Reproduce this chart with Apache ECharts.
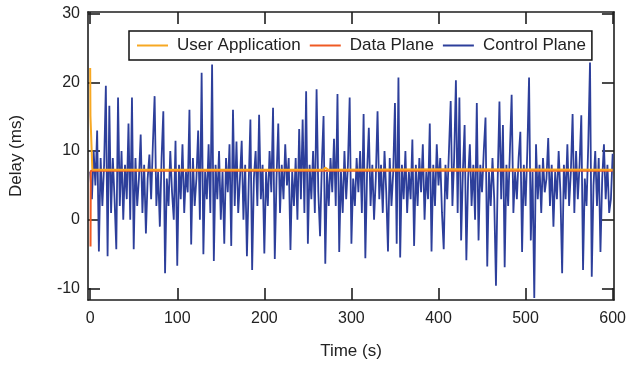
<!DOCTYPE html>
<html>
<head>
<meta charset="utf-8">
<script src="https://cdn.jsdelivr.net/npm/echarts@6/dist/echarts.min.js"></script>
<style>
html,body{margin:0;padding:0;background:#fff;}
#chart{width:629px;height:365px;}
</style>
</head>
<body>
<div id="chart"></div>
<script>
// ---- data ----
const seriesNames = ["User Application", "Data Plane", "Control Plane"];
const xTicks = [0, 100, 200, 300, 400, 500, 600];
const yTicks = [-10, 0, 10, 20, 30];

const userTime   = [0, 0.3, 2.5, 150, 268, 270, 273, 420, 600];
const userValues = [22.1, 15.1, 7.3, 7.3, 7.3, 7.6, 7.3, 7.35, 7.3];

const dataTime   = [0.4, 0.7, 600];
const dataValues = [-3.9, 7.15, 7.15];

// control plane sampled every 2 s from 0 to 600 s
const cpSampleStep = 2;
const cpValues = [
  7, 3, 10, 5, 13, -4.6, 9, 2, 8, 19.5,
  -5.3, 16.6, 1, 9, 3, -4.3, 17.8, 2, 10, 0,
  8, 3, 14, 0, 17.8, -4.3, 9, 2, 6, 12.4,
  1, 8, -2, 6, 9.5, 3, 11, 18, 2, 7,
  -1, 9, 15.8, -7.8, 6, 2, 10, 4, 0, 11.5,
  -6.7, 8, 3, 11, 1, 7, 4, 16, -3.6, 9,
  2, 6, 13, 0, 21.4, -5, 7, 3, 11, 1,
  22.6, -6, 8, 3, 10, 0, 7, -3.5, 9, 4,
  11, -3.8, 16, 2, 11.4, 1, 6, 11.5, 0, 8,
  -5.3, 5, 14.6, -7.3, 6, 10, 2, 15.3, 3, 8,
  -4.9, 7, 2, 10, 4, 16.3, -5.7, 6, 14, 1,
  8, 3, 11, 5, 9, -4.4, 7, 2, 9, 0,
  13.2, 3, 14.6, 1, 18.7, -3.5, 8, 3, 10, 1,
  19, 4, -2.4, 8, 15.1, -6.4, 7, 2, 9, 4,
  11.8, 2, 18.3, -4.7, 7, 1, 10, 3, 8, 17.8,
  -3.5, 6, 2, 9, 4, 10, 1, 15.4, -5.6, 7,
  13.4, 2, 8, 0, 6, 15.8, 3, 8, 1, 10,
  4, -4.6, 9, 2, 7, 17, -3.5, 20.7, -5.5, 8,
  3, 10, 1, 7, 3, 11.7, -3.8, 8, 2, 9,
  4, 11, 0, 7, 3, 14, -4.6, 8, 2, 11,
  5, 9, 1, -4.3, 8, 3, 10, 17.3, 2, 9,
  20.3, 1, 17.8, -3, 7, 13.8, -5.9, 6, 11, 2,
  8, 0, 17, -3, 8, 4, 10, 14.9, -6.8, 7,
  2, 9, 3, -9.6, 6, 17.2, 3, 13.8, -6.9, 8,
  2, 10, 18.2, 1, 7, 3, 9, 12.8, -4.7, 8,
  2, 10, 20.7, -3, 7, -11.4, 11, 3, 8, 1,
  9, 4, 6, 11.9, 2, 8, -1, 7, 3, 10,
  4, -7.8, 8, 3, 11, 2, 7, 15.4, 1, 10,
  3, 8, 15.2, -7.3, 6, 2, 11, 22.9, -8.3, 5,
  10, 2, 9, -4.7, 6, 11, 3, 8, 1, 3,
  9.6
];

// ---- build ----
const pairs = (xs, ys) => xs.map((x, i) => [x, ys[i]]);
const cpData = cpValues.map((v, i) => [i * cpSampleStep, v]);

const FONT = "'Liberation Sans', Arial, sans-serif";
const AX = '#1e1e1e';

const xRange = { min: -2.5, max: 601.5 };
const yRange = { min: -11.68, max: 30.25 };

function xAxisCfg(pos, labels) {
  return {
    type: 'value', position: pos, ...xRange,
    name: labels ? 'Time (s)' : '', nameLocation: 'middle', nameGap: 43,
    nameTextStyle: { fontFamily: FONT, fontSize: 17, color: '#222' },
    axisLine: { show: true, onZero: false, lineStyle: { color: AX, width: 1.6 } },
    axisTick: { show: true, inside: true, length: 12, customValues: xTicks, lineStyle: { color: AX, width: 1.6 } },
    axisLabel: { show: labels, customValues: xTicks, margin: 11, fontFamily: FONT, fontSize: 16, color: '#222' },
    splitLine: { show: false }
  };
}
function yAxisCfg(pos, labels) {
  return {
    type: 'value', position: pos, ...yRange,
    name: labels ? 'Delay (ms)' : '', nameLocation: 'middle', nameGap: 63, nameRotate: 90,
    nameTextStyle: { fontFamily: FONT, fontSize: 17, color: '#222' },
    axisLine: { show: true, onZero: false, lineStyle: { color: AX, width: 1.6 } },
    axisTick: { show: true, inside: true, length: 12, customValues: yTicks, lineStyle: { color: AX, width: 1.6 } },
    axisLabel: { show: labels, customValues: yTicks, margin: 8, fontFamily: FONT, fontSize: 16, color: '#222' },
    splitLine: { show: false }
  };
}

const chart = echarts.init(document.getElementById('chart'), null, { renderer: 'canvas' });
chart.setOption({
  animation: false,
  backgroundColor: '#fff',
  grid: { left: 88, right: 13, top: 12, bottom: 62.5, containLabel: false },
  legend: {
    data: seriesNames,
    left: 129, top: 31,
    orient: 'horizontal',
    icon: 'rect', itemWidth: 31, itemHeight: 2, itemGap: 9,
    padding: [6, 6, 6, 8],
    borderColor: '#111', borderWidth: 1.5,
    textStyle: { fontFamily: FONT, fontSize: 17, color: '#222', padding: [0, 0, 0, 4] }
  },
  xAxis: [xAxisCfg('bottom', true), xAxisCfg('top', false)],
  yAxis: [yAxisCfg('left', true), yAxisCfg('right', false)],
  series: [
    { name: seriesNames[0], type: 'line', data: pairs(userTime, userValues), symbol: 'none', z: 4,
      color: '#f7a823', lineStyle: { width: 2, color: '#f7a823' } },
    { name: seriesNames[1], type: 'line', data: pairs(dataTime, dataValues), symbol: 'none', z: 3,
      color: '#ef5a24', lineStyle: { width: 2, color: '#ef5a24' } },
    { name: seriesNames[2], type: 'line', data: cpData, symbol: 'none', z: 2,
      color: '#2d3f9b', lineStyle: { width: 1.8, color: '#2d3f9b' } }
  ]
});
</script>
</body>
</html>
